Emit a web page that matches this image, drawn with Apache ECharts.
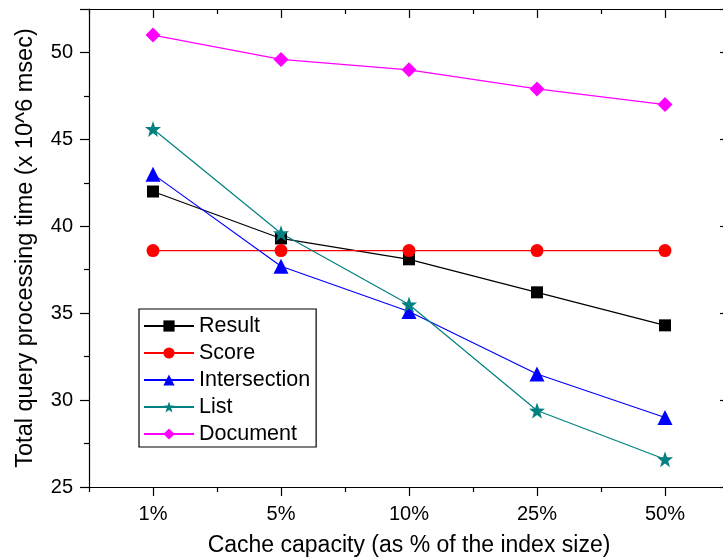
<!DOCTYPE html>
<html>
<head>
<meta charset="utf-8">
<script src="https://cdn.jsdelivr.net/npm/echarts@6/dist/echarts.min.js"></script>
<style>
  html, body { margin: 0; padding: 0; background: #fff; overflow: hidden; }
  #main { width: 723px; height: 560px; }
</style>
</head>
<body>
<div id="main"></div>
<script>
var categories = ['1%', '5%', '10%', '25%', '50%'];
var result = [42.0, 39.3, 38.1, 36.2, 34.3];
var score = [38.6, 38.6, 38.6, 38.6, 38.6];
var intersection = [43.0, 37.7, 35.1, 31.5, 29.0];
var list = [45.6, 39.6, 35.5, 29.4, 26.6];
var documentTimes = [51.0, 49.6, 49.0, 47.9, 47.0];

var STAR = 'path://M0,-10L2.35,-3.24L9.51,-3.09L3.8,1.24L5.88,8.09L0,4L-5.88,8.09L-3.8,1.24L-9.51,-3.09L-2.35,-3.24Z';
var DIAMOND = 'path://M0,-10L10,0L0,10L-10,0Z';
var FONT = 'Liberation Sans, Arial, sans-serif';

var chart = echarts.init(document.getElementById('main'));

function line(name, data, color, symbol, size) {
    return {
        name: name,
        type: 'line',
        data: data,
        symbol: symbol,
        symbolSize: size,
        itemStyle: { color: color },
        lineStyle: { color: color, width: 1.2 },
        animation: false
    };
}

function catAxis(pos, align, len, inside, labels, idx) {
    return {
        type: 'category',
        data: categories,
        position: pos,
        boundaryGap: true,
        axisLine: { show: idx === 0 || idx === 2, lineStyle: { color: '#000', width: 1.2 } },
        axisTick: { show: true, alignWithLabel: align, length: len, inside: inside,
                    lineStyle: { color: '#000', width: 1.2 } },
        axisLabel: { show: labels, color: '#000', fontSize: 20, fontFamily: FONT, margin: 17 },
        name: idx === 0 ? 'Cache capacity (as % of the index size)' : '',
        nameLocation: 'middle',
        nameGap: 47,
        nameTextStyle: { color: '#000', fontSize: 23, fontFamily: FONT },
        splitLine: { show: false }
    };
}

function valAxis(pos, inside, labels, first) {
    return {
        type: 'value',
        position: pos,
        min: 25,
        max: 52.5,
        interval: 5,
        axisLine: { show: true, onZero: false, lineStyle: { color: '#000', width: 1.2 } },
        axisTick: { show: true, length: 9, inside: inside, lineStyle: { color: '#000', width: 1.2 } },
        minorTick: { show: true, splitNumber: 2, length: 5, lineStyle: { color: '#000', width: 1.2 } },
        axisLabel: {
            show: labels, color: '#000', fontSize: 20, fontFamily: FONT, margin: 16,
            formatter: function (v) { return v % 5 === 0 ? String(v) : ''; }
        },
        name: first ? 'Total query processing time (x 10^6 msec)' : '',
        nameLocation: 'middle',
        nameGap: 51,
        nameTextStyle: { color: '#000', fontSize: 23.5, fontFamily: FONT },
        splitLine: { show: false }
    };
}

chart.setOption({
    backgroundColor: '#fff',
    animation: false,
    grid: { left: 89, width: 640, top: 9, height: 478, containLabel: false, outerBoundsMode: 'none' },
    legend: {
        orient: 'vertical',
        left: 139,
        top: 309,
        itemWidth: 50,
        itemHeight: 14,
        itemGap: 5,
        padding: [6, 6, 2, 4],
        borderColor: '#000',
        borderWidth: 1.2,
        backgroundColor: '#fff',
        textStyle: { color: '#000', fontSize: 21.5, fontFamily: FONT },
        data: ['Result', 'Score', 'Intersection', 'List', 'Document']
    },
    xAxis: [
        catAxis('bottom', true, 9, false, true, 0),
        catAxis('bottom', false, 5, false, false, 1),
        catAxis('top', true, 9, true, false, 2),
        catAxis('top', false, 5, true, false, 3)
    ],
    yAxis: [
        valAxis('left', false, true, true),
        valAxis('right', true, false, false)
    ],
    series: [
        line('Result', result, '#000000', 'rect', 12),
        line('Score', score, '#ff0000', 'circle', 13),
        line('Intersection', intersection, '#0000ff', 'triangle', 15),
        line('List', list, '#008080', STAR, 16),
        line('Document', documentTimes, '#ff00ff', DIAMOND, 15)
    ]
});
</script>
</body>
</html>
